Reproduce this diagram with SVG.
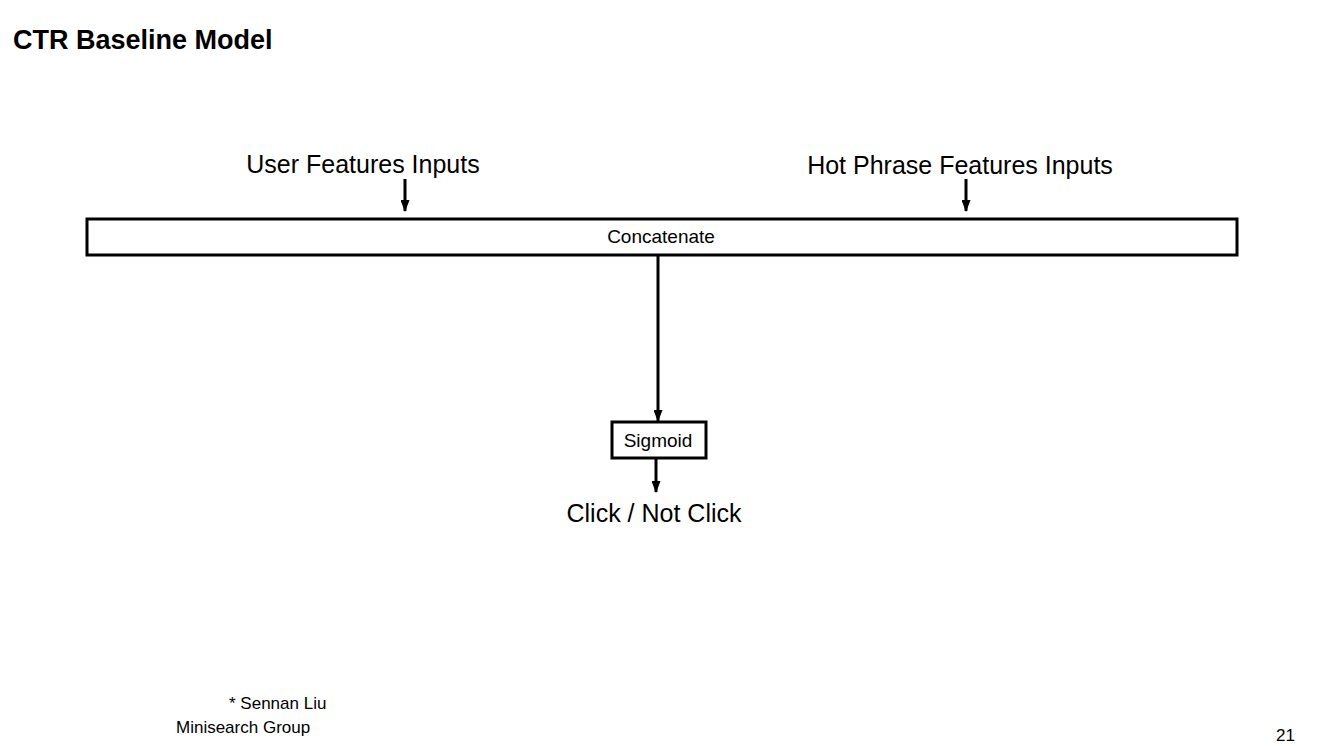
<svg xmlns="http://www.w3.org/2000/svg" width="1323" height="746" viewBox="0 0 1323 746">
<style>
text{font-family:"Liberation Sans",Arial,sans-serif;fill:#000}
.box{fill:#fff;stroke:#000;stroke-width:3}
.c{stroke:#000;stroke-width:3;fill:none}
</style>
<defs>
<marker id="ah" viewBox="0 0 12 9" refX="11" refY="4.5" markerWidth="4" markerHeight="3" orient="auto" markerUnits="strokeWidth">
<path d="M0,0L12,4.5L0,9z" fill="#000"/>
</marker>
</defs>
<rect width="1323" height="746" fill="#fff"/>
<text x="13" y="49" font-size="27" font-weight="bold">CTR Baseline Model</text>
<g id="user"><text x="363" y="173" font-size="25" text-anchor="middle">User Features Inputs</text></g>
<g id="hot"><text x="960" y="174" font-size="25" text-anchor="middle">Hot Phrase Features Inputs</text></g>
<g id="concat"><rect class="box" x="87" y="219" width="1150" height="36"/><text x="661" y="243" font-size="19" text-anchor="middle">Concatenate</text></g>
<g id="sigmoid"><rect class="box" x="612" y="422" width="94" height="36"/><text x="658" y="447" font-size="19" text-anchor="middle">Sigmoid</text></g>
<g id="out"><text x="654" y="522" font-size="25" text-anchor="middle">Click / Not Click</text></g>
<g id="connectors">
<line class="c" x1="405" y1="179" x2="405" y2="211" marker-end="url(#ah)"/>
<line class="c" x1="966" y1="179" x2="966" y2="211" marker-end="url(#ah)"/>
<line class="c" x1="658" y1="256" x2="658" y2="421" marker-end="url(#ah)"/>
<line class="c" x1="656" y1="459" x2="656" y2="492" marker-end="url(#ah)"/>
</g>
<text x="229" y="709" font-size="17">* Sennan Liu</text>
<text x="176" y="733" font-size="17">Minisearch Group</text>
<text x="1276" y="741" font-size="17">21</text>
</svg>
